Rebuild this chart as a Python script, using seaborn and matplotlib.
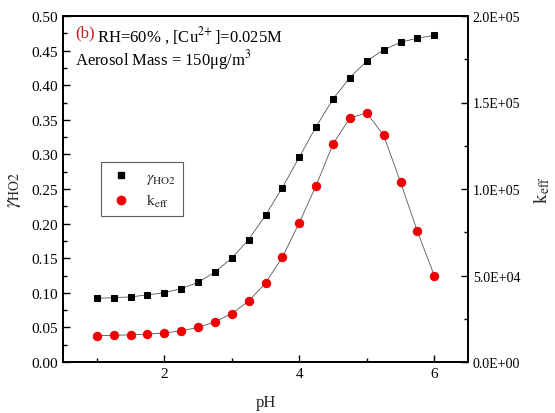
import matplotlib
matplotlib.use("Agg")
import matplotlib.pyplot as plt
import seaborn as sns
import pandas as pd
import numpy as np
from matplotlib.ticker import MultipleLocator, FuncFormatter
from matplotlib.lines import Line2D

ph = [1.0, 1.25, 1.5, 1.75, 2.0, 2.25, 2.5, 2.75, 3.0, 3.25, 3.5, 3.75,
      4.0, 4.25, 4.5, 4.75, 5.0, 5.25, 5.5, 5.75, 6.0]
gamma_ho2 = [0.092, 0.093, 0.094, 0.097, 0.100, 0.106, 0.115, 0.130, 0.150, 0.177, 0.212, 0.252,
             0.296, 0.340, 0.380, 0.411, 0.435, 0.451, 0.462, 0.468, 0.472]
k_eff = [15200, 15400, 15700, 16100, 16800, 18000, 20000, 23200, 28000, 35200, 45600, 60600,
         80400, 102000, 126000, 141000, 144000, 131000, 104000, 75500, 50000]

df = pd.DataFrame({"pH": ph, "gamma": gamma_ho2, "keff": k_eff})

sns.set_theme(style="ticks")
plt.rcParams['font.family'] = ['Liberation Serif', 'DejaVu Serif']
plt.rcParams['mathtext.fontset'] = 'stix'

fig = plt.figure(figsize=(5.55, 4.14), dpi=100)
ax = fig.add_axes([63/555, 51/414, 405/555, 346/414])
ax2 = ax.twinx()

sns.lineplot(data=df, x="pH", y="gamma", ax=ax, color="#555555", lw=0.6,
             marker="s", markersize=4.8, markerfacecolor="black", markeredgecolor="black")
sns.lineplot(data=df, x="pH", y="keff", ax=ax2, color="#555555", lw=0.6,
             marker="o", markersize=6, markerfacecolor="#ee0000", markeredgecolor="#ee0000")

ax.set_xlim(0.5, 6.5)
ax.set_ylim(0, 0.5)
ax2.set_ylim(0, 2.0e5)
ax.xaxis.set_major_locator(MultipleLocator(2))
ax.xaxis.set_minor_locator(MultipleLocator(1))
ax.yaxis.set_major_locator(MultipleLocator(0.05))
ax.yaxis.set_minor_locator(MultipleLocator(0.025))
ax2.yaxis.set_major_locator(MultipleLocator(5e4))
ax2.yaxis.set_minor_locator(MultipleLocator(2.5e4))
ax.yaxis.set_major_formatter(FuncFormatter(lambda v, p: f"{v:.2f}"))
ax2.yaxis.set_major_formatter(FuncFormatter(lambda v, p: f"{v:.1E}"))

for a in (ax, ax2):
    for s in a.spines.values():
        s.set_linewidth(1.3)
        s.set_color("black")
    a.tick_params(which="both", direction="in", colors="black", labelsize=11, width=1.0)
    a.tick_params(which="major", length=5)
    a.tick_params(which="minor", length=3)
ax2.tick_params(axis="y", labelsize=10)

ax.set_xlabel("pH", fontsize=12, labelpad=10)
ax.set_ylabel(r"$\gamma_{\mathrm{HO2}}$", fontsize=14, labelpad=6)
ax2.set_ylabel(r"$\mathrm{k_{eff}}$", fontsize=14, labelpad=8)

ax.text(0.03, 0.975, "(b)", transform=ax.transAxes, color="#cc1a1a", fontsize=12,
        va="top", ha="left")
ax.text(0.085, 0.975, r"RH=60% , [Cu$^{2\!+}$]=0.025M", transform=ax.transAxes,
        color="black", fontsize=12, va="top", ha="left")
ax.text(0.03, 0.91, r"Aerosol Mass = 150μg/m$^{3}$", transform=ax.transAxes,
        color="black", fontsize=12, va="top", ha="left")

handles = [Line2D([], [], ls="none", marker="s", color="black", markersize=4.8),
           Line2D([], [], ls="none", marker="o", color="#ee0000", markersize=6)]
leg = ax.legend(handles, [r"$\gamma_{\mathrm{HO2}}$", r"$\mathrm{k_{eff}}$"],
                loc="upper left", bbox_to_anchor=(0.075, 0.6), frameon=True,
                fancybox=False, edgecolor="#333333", fontsize=11.5,
                handletextpad=0.8, borderpad=0.4, labelspacing=0.4,
                handlelength=1.6)
leg.get_frame().set_linewidth(0.8)

fig.savefig("out.png", dpi=100)
